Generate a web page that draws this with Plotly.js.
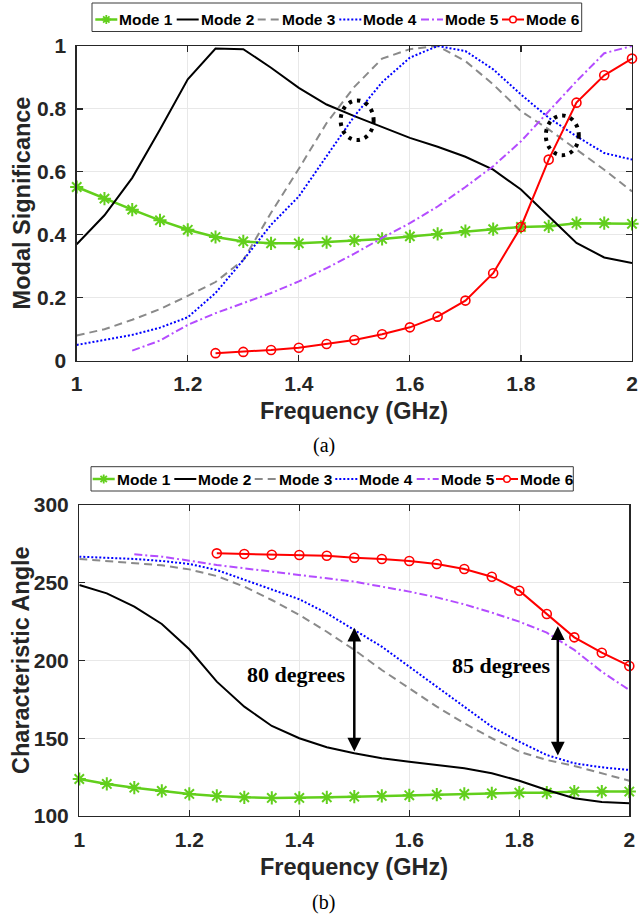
<!DOCTYPE html>
<html>
<head>
<meta charset="utf-8">
<script src="https://cdn.plot.ly/plotly-3.0.1.min.js"></script>
<style>html,body{margin:0;padding:0;background:#fff;}#chart{width:639px;height:914px;}</style>
</head>
<body>
<div id="chart"></div>
<script>
// ---------------- DATA ----------------
const modeNames = ["Mode 1", "Mode 2", "Mode 3", "Mode 4", "Mode 5", "Mode 6"];
const freq  = [1, 1.05, 1.1, 1.15, 1.2, 1.25, 1.3, 1.35, 1.4, 1.45, 1.5, 1.55, 1.6, 1.65, 1.7, 1.75, 1.8, 1.85, 1.9, 1.95, 2];
const freq5 = [1.1, 1.15, 1.2, 1.25, 1.3, 1.35, 1.4, 1.45, 1.5, 1.55, 1.6, 1.65, 1.7, 1.75, 1.8, 1.85, 1.9, 1.95, 2];
const freq6 = [1.25, 1.3, 1.35, 1.4, 1.45, 1.5, 1.55, 1.6, 1.65, 1.7, 1.75, 1.8, 1.85, 1.9, 1.95, 2];

// (a) Modal significance
const ms1 = [0.552, 0.515, 0.48, 0.446, 0.416, 0.393, 0.379, 0.373, 0.373, 0.377, 0.382, 0.387, 0.395, 0.403, 0.412, 0.418, 0.425, 0.427, 0.437, 0.437, 0.435];
const ms2 = [0.37, 0.462, 0.581, 0.735, 0.894, 0.992, 0.99, 0.931, 0.867, 0.814, 0.777, 0.742, 0.708, 0.68, 0.648, 0.607, 0.544, 0.459, 0.374, 0.328, 0.31];
const ms3 = [0.08, 0.1, 0.13, 0.164, 0.206, 0.25, 0.32, 0.47, 0.61, 0.755, 0.87, 0.96, 0.99, 1.0, 0.952, 0.878, 0.793, 0.735, 0.671, 0.607, 0.538];
const ms4 = [0.05, 0.065, 0.082, 0.105, 0.138, 0.215, 0.32, 0.432, 0.522, 0.65, 0.777, 0.885, 0.963, 1.0, 0.984, 0.926, 0.846, 0.772, 0.713, 0.66, 0.639];
const ms5 = [0.032, 0.064, 0.114, 0.151, 0.183, 0.215, 0.252, 0.294, 0.34, 0.39, 0.437, 0.49, 0.552, 0.618, 0.697, 0.793, 0.888, 0.977, 1.0];
const ms6 = [0.024, 0.028, 0.034, 0.041, 0.053, 0.066, 0.084, 0.106, 0.14, 0.191, 0.278, 0.425, 0.639, 0.82, 0.907, 0.96];

// (b) Characteristic angle
const ca1 = [123.8, 120.6, 118.2, 116.1, 114.2, 112.9, 112, 111.6, 111.6, 112, 112.4, 112.9, 113.3, 113.7, 114.2, 114.6, 115, 115, 115.7, 115.7, 115.7];
const ca2 = [248.6, 243.2, 234.6, 223.5, 207.2, 186.4, 170.3, 157.9, 150, 144.2, 140.3, 137.1, 134.9, 132.8, 130.7, 127.5, 122.7, 116.7, 111.4, 109, 108.2];
const ca3 = [265.3, 264, 262.9, 261.2, 258.6, 254.3, 247.5, 238.9, 229.3, 218.5, 206.8, 193.9, 182.1, 170.3, 159.6, 150, 141.4, 136, 132.2, 127.5, 122.7];
const ca4 = [266.8, 266.2, 265.3, 264, 262.1, 258.2, 251.8, 245.8, 239.4, 230.4, 219.6, 208.9, 196, 183.2, 170.3, 157.4, 147.8, 139.2, 133.9, 131.3, 129.6];
const ca5 = [268.3, 266.8, 264.2, 261.4, 259.3, 257.1, 255, 252.9, 250.7, 247.5, 244.3, 240.6, 236.1, 230.8, 225, 217.9, 206.8, 192.8, 181];
const ca6 = [268.9, 268.5, 268, 267.8, 267.4, 266.1, 265.3, 264, 262.1, 258.8, 253.9, 244.9, 229.9, 214.9, 205, 196.5];

const xTicks  = [1, 1.2, 1.4, 1.6, 1.8, 2];
const msTicks = [0, 0.2, 0.4, 0.6, 0.8, 1];
const caTicks = [100, 150, 200, 250, 300];

// ---------------- STYLE ----------------
const W = 639, H = 914;
const PX = v => v / W;
const PY = v => 1 - v / H;
const SANS = "'Liberation Sans', Arial, Helvetica, sans-serif";
const SERIF = "'Liberation Serif', 'Times New Roman', serif";
const INK = "#262626";

const styles = [
  {color: "#62cf1c", width: 2.5, dash: "solid", marker: {symbol: "asterisk-open", size: 11, color: "#62cf1c", line: {color: "#62cf1c", width: 2}}, mode: "lines+markers"},
  {color: "#000000", width: 2, dash: "solid", mode: "lines"},
  {color: "#8a8a8a", width: 2, dash: "8px,5px", mode: "lines"},
  {color: "#0000ff", width: 2, dash: "2px,2px", mode: "lines"},
  {color: "#b44cff", width: 2, dash: "8px,3px,2px,3px", mode: "lines"},
  {color: "#ff0000", width: 2, dash: "solid", marker: {symbol: "circle-open", size: 9, color: "#ff0000", line: {color: "#ff0000", width: 1.6}}, mode: "lines+markers"}
];

function mkTrace(i, x, y, xa, ya) {
  const s = styles[i];
  const t = {x: x, y: y, xaxis: xa, yaxis: ya, name: modeNames[i], mode: s.mode, showlegend: false,
    line: {color: s.color, width: s.width, dash: s.dash}, cliponaxis: false};
  if (s.marker) t.marker = s.marker;
  return t;
}

const seriesA = [[freq, ms1], [freq, ms2], [freq, ms3], [freq, ms4], [freq5, ms5], [freq6, ms6]];
const seriesB = [[freq, ca1], [freq, ca2], [freq, ca3], [freq, ca4], [freq5, ca5], [freq6, ca6]];
const traces = [];
seriesA.forEach((d, i) => traces.push(mkTrace(i, d[0], d[1], "x", "y")));
seriesB.forEach((d, i) => traces.push(mkTrace(i, d[0], d[1], "x2", "y2")));

function axisBase(extra) {
  return Object.assign({
    showline: true, linecolor: INK, linewidth: 1.3, mirror: "ticks",
    ticks: "inside", ticklen: 6, tickwidth: 1.2, tickcolor: INK,
    showgrid: true, gridcolor: "#e8e8e8", gridwidth: 1, zeroline: false,
    tickfont: {family: SANS, size: 21, color: INK, weight: "bold"},
    fixedrange: true
  }, extra);
}

const shapes = [];
const annotations = [];

// Legends (drawn as shapes + text, matching the compact MATLAB legend)
function buildLegend(box, textX, textY) {
  shapes.push({type: "rect", xref: "paper", yref: "paper",
    x0: PX(box[0]), x1: PX(box[1]), y0: PY(box[3]), y1: PY(box[2]),
    line: {color: "#3a3a3a", width: 1}, fillcolor: "#ffffff"});
  modeNames.forEach((n, i) => {
    const s = styles[i];
    const xs = textX[i] - 24, xe = textX[i] - 2, cx = (xs + xe) / 2;
    shapes.push({type: "line", xref: "paper", yref: "paper",
      x0: PX(xs), x1: PX(xe), y0: PY(textY), y1: PY(textY),
      line: {color: s.color, width: s.width, dash: s.dash}});
    if (i === 0) {
      const r = 4.5, d = r * 0.707;
      const p = (a, b) => PX(a) + "," + PY(b);
      const path = "M" + p(cx - r, textY) + "L" + p(cx + r, textY) +
                   "M" + p(cx, textY - r) + "L" + p(cx, textY + r) +
                   "M" + p(cx - d, textY - d) + "L" + p(cx + d, textY + d) +
                   "M" + p(cx - d, textY + d) + "L" + p(cx + d, textY - d);
      shapes.push({type: "path", xref: "paper", yref: "paper", path: path, line: {color: s.color, width: 1.8}});
    }
    if (i === 5) {
      const r = 3.3;
      shapes.push({type: "circle", xref: "paper", yref: "paper",
        x0: PX(cx - r), x1: PX(cx + r), y0: PY(textY + r), y1: PY(textY - r),
        line: {color: s.color, width: 1.5}, fillcolor: "#ffffff"});
    }
    annotations.push({text: n, xref: "paper", yref: "paper", x: PX(textX[i] - 2), y: PY(textY),
      xanchor: "left", yanchor: "middle", showarrow: false,
      font: {family: SANS, size: 15.5, color: "#000", weight: "bold"}});
  });
}
buildLegend([92, 581.7, 3, 31.5], [119.3, 200.7, 281.7, 363.3, 445, 526], 19.5);
buildLegend([91, 573.3, 466.7, 491], [116.7, 198.3, 278.7, 359.3, 440.7, 520], 479);

// Dotted circles on (a)
[[1.505, 0.764], [1.8745, 0.716]].forEach(c => {
  shapes.push({type: "circle", xref: "x", yref: "y",
    x0: c[0] - 0.0297, x1: c[0] + 0.0297, y0: c[1] - 0.063, y1: c[1] + 0.063,
    line: {color: "#000", width: 4, dash: "3.5px,5px"}});
});

// Double arrows + labels on (b)
[[1.5, 140.5, 221], [1.87, 138, 222]].forEach(a => {
  annotations.push({xref: "x2", yref: "y2", axref: "x2", ayref: "y2",
    x: a[0], y: a[2], ax: a[0], ay: a[1], text: "", showarrow: true,
    arrowhead: 2, arrowside: "end+start", arrowsize: 1.1, arrowwidth: 2.5, arrowcolor: "#000"});
});
annotations.push({xref: "x2", yref: "y2", x: 1.3935, y: 190.7, text: "80 degrees", showarrow: false,
  font: {family: SERIF, size: 22, color: "#000", weight: "bold"}});
annotations.push({xref: "x2", yref: "y2", x: 1.7664, y: 197.1, text: "85 degrees", showarrow: false,
  font: {family: SERIF, size: 22, color: "#000", weight: "bold"}});

// Axis titles & panel labels
const titleFont = {family: SANS, size: 23.5, color: INK, weight: "bold"};
annotations.push({text: "Frequency (GHz)", xref: "paper", yref: "paper", x: PX(354.4), y: PY(411), xanchor: "center", yanchor: "middle", showarrow: false, font: titleFont});
annotations.push({text: "Frequency (GHz)", xref: "paper", yref: "paper", x: PX(354.3), y: PY(867), xanchor: "center", yanchor: "middle", showarrow: false, font: titleFont});
annotations.push({text: "Modal Significance", xref: "paper", yref: "paper", x: PX(22), y: PY(203.4), xanchor: "center", yanchor: "middle", textangle: -90, showarrow: false, font: titleFont});
annotations.push({text: "Characteristic Angle", xref: "paper", yref: "paper", x: PX(20.5), y: PY(660.5), xanchor: "center", yanchor: "middle", textangle: -90, showarrow: false, font: titleFont});
annotations.push({text: "(a)", xref: "paper", yref: "paper", x: PX(323.5), y: PY(446), xanchor: "center", yanchor: "middle", showarrow: false, font: {family: SERIF, size: 20, color: "#000"}});
annotations.push({text: "(b)", xref: "paper", yref: "paper", x: PX(323.5), y: PY(902), xanchor: "center", yanchor: "middle", showarrow: false, font: {family: SERIF, size: 20, color: "#000"}});

const layout = {
  width: W, height: H,
  margin: {l: 0, r: 0, t: 0, b: 0, pad: 0},
  paper_bgcolor: "#ffffff", plot_bgcolor: "#ffffff",
  showlegend: false,
  xaxis: axisBase({domain: [PX(76.7), PX(632)], anchor: "y", range: [1, 2], tickvals: xTicks, ticklabelstandoff: 4}),
  yaxis: axisBase({domain: [PY(360.7), PY(46)], anchor: "x", range: [0, 1], tickvals: msTicks, ticklabelstandoff: 5}),
  xaxis2: axisBase({domain: [PX(79.3), PX(629.3)], anchor: "y2", range: [1, 2], tickvals: xTicks, ticklabelstandoff: 4}),
  yaxis2: axisBase({domain: [PY(816), PY(505)], anchor: "x2", range: [100, 300], tickvals: caTicks, ticklabelstandoff: 5}),
  shapes: shapes,
  annotations: annotations
};

Plotly.newPlot("chart", traces, layout, {staticPlot: true, displayModeBar: false});
</script>
</body>
</html>
